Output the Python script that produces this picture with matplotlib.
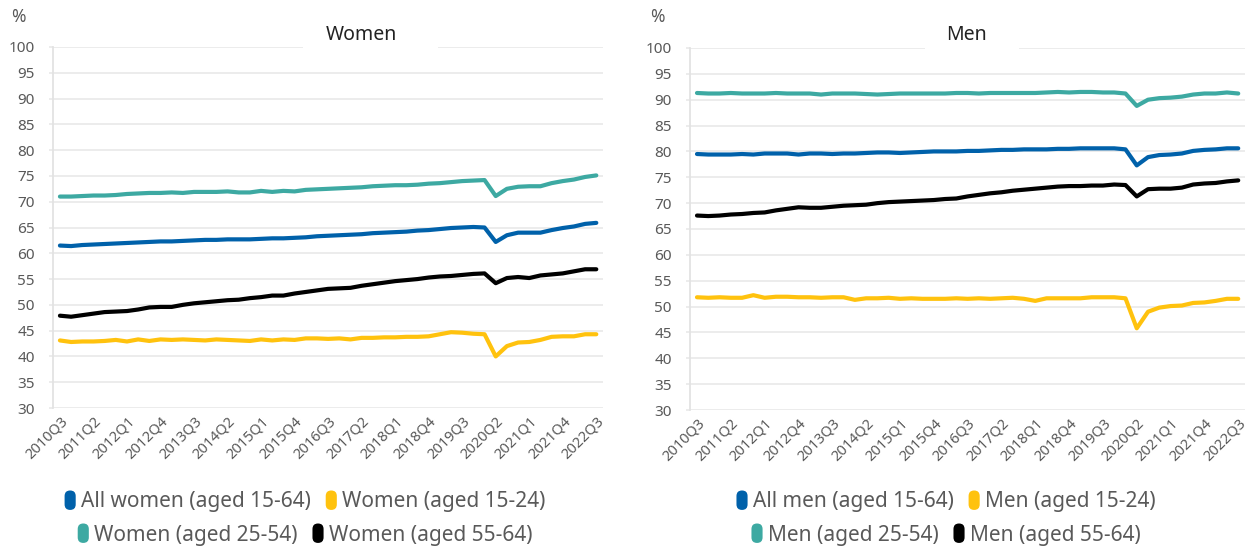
import matplotlib
matplotlib.use("Agg")
import matplotlib.pyplot as plt
from matplotlib.patches import FancyBboxPatch, Patch, Rectangle
from matplotlib.legend_handler import HandlerPatch

plt.rcParams['font.family'] = ['Noto Sans', 'DejaVu Sans']

quarters = [
    "2010Q3", "2010Q4",
    "2011Q1", "2011Q2", "2011Q3", "2011Q4",
    "2012Q1", "2012Q2", "2012Q3", "2012Q4",
    "2013Q1", "2013Q2", "2013Q3", "2013Q4",
    "2014Q1", "2014Q2", "2014Q3", "2014Q4",
    "2015Q1", "2015Q2", "2015Q3", "2015Q4",
    "2016Q1", "2016Q2", "2016Q3", "2016Q4",
    "2017Q1", "2017Q2", "2017Q3", "2017Q4",
    "2018Q1", "2018Q2", "2018Q3", "2018Q4",
    "2019Q1", "2019Q2", "2019Q3", "2019Q4",
    "2020Q1", "2020Q2", "2020Q3", "2020Q4",
    "2021Q1", "2021Q2", "2021Q3", "2021Q4",
    "2022Q1", "2022Q2", "2022Q3",
]
tick_labels = ["2010Q3", "2011Q2", "2012Q1", "2012Q4", "2013Q3", "2014Q2",
               "2015Q1", "2015Q4", "2016Q3", "2017Q2", "2018Q1", "2018Q4",
               "2019Q3", "2020Q2", "2021Q1", "2021Q4", "2022Q3"]

women_all = [61.5, 61.4, 61.6, 61.7, 61.8, 61.9, 62.0, 62.1, 62.2, 62.3,
             62.3, 62.4, 62.5, 62.6, 62.6, 62.7, 62.7, 62.7, 62.8, 62.9,
             62.9, 63.0, 63.1, 63.3, 63.4, 63.5, 63.6, 63.7, 63.9, 64.0,
             64.1, 64.2, 64.4, 64.5, 64.7, 64.9, 65.0, 65.1, 65.0, 62.2,
             63.5, 64.0, 64.0, 64.0, 64.5, 64.9, 65.2, 65.7, 65.9]
women_15_24 = [43.1, 42.8, 42.9, 42.9, 43.0, 43.2, 42.9, 43.3, 43.0, 43.3,
               43.2, 43.3, 43.2, 43.1, 43.3, 43.2, 43.1, 43.0, 43.3, 43.1,
               43.3, 43.2, 43.5, 43.5, 43.4, 43.5, 43.3, 43.6, 43.6, 43.7,
               43.7, 43.8, 43.8, 43.9, 44.3, 44.7, 44.6, 44.4, 44.3, 40.0,
               42.0, 42.7, 42.8, 43.2, 43.8, 43.9, 43.9, 44.3, 44.3]
women_25_54 = [71.0, 71.0, 71.1, 71.2, 71.2, 71.3, 71.5, 71.6, 71.7, 71.7,
               71.8, 71.7, 71.9, 71.9, 71.9, 72.0, 71.8, 71.8, 72.1, 71.9,
               72.1, 72.0, 72.3, 72.4, 72.5, 72.6, 72.7, 72.8, 73.0, 73.1,
               73.2, 73.2, 73.3, 73.5, 73.6, 73.8, 74.0, 74.1, 74.2, 71.1,
               72.5, 72.9, 73.0, 73.0, 73.6, 74.0, 74.3, 74.8, 75.1]
women_55_64 = [47.9, 47.7, 48.0, 48.3, 48.6, 48.7, 48.8, 49.1, 49.5, 49.6,
               49.6, 50.0, 50.3, 50.5, 50.7, 50.9, 51.0, 51.3, 51.5, 51.8,
               51.8, 52.2, 52.5, 52.8, 53.1, 53.2, 53.3, 53.7, 54.0, 54.3,
               54.6, 54.8, 55.0, 55.3, 55.5, 55.6, 55.8, 56.0, 56.1, 54.2,
               55.2, 55.4, 55.2, 55.7, 55.9, 56.1, 56.5, 56.9, 56.9]

men_all = [79.5, 79.4, 79.4, 79.4, 79.5, 79.4, 79.6, 79.6, 79.6, 79.4,
           79.6, 79.6, 79.5, 79.6, 79.6, 79.7, 79.8, 79.8, 79.7, 79.8,
           79.9, 80.0, 80.0, 80.0, 80.1, 80.1, 80.2, 80.3, 80.3, 80.4,
           80.4, 80.4, 80.5, 80.5, 80.6, 80.6, 80.6, 80.6, 80.4, 77.3,
           78.9, 79.3, 79.4, 79.6, 80.1, 80.3, 80.4, 80.6, 80.6]
men_15_24 = [51.8, 51.7, 51.8, 51.7, 51.7, 52.2, 51.7, 51.9, 51.9, 51.8,
             51.8, 51.7, 51.8, 51.8, 51.3, 51.6, 51.6, 51.7, 51.5, 51.6,
             51.5, 51.5, 51.5, 51.6, 51.5, 51.6, 51.5, 51.6, 51.7, 51.5,
             51.1, 51.6, 51.6, 51.6, 51.6, 51.8, 51.8, 51.8, 51.6, 45.8,
             49.0, 49.8, 50.1, 50.2, 50.7, 50.8, 51.1, 51.5, 51.5]
men_25_54 = [91.3, 91.2, 91.2, 91.3, 91.2, 91.2, 91.2, 91.3, 91.2, 91.2,
             91.2, 91.0, 91.2, 91.2, 91.2, 91.1, 91.0, 91.1, 91.2, 91.2,
             91.2, 91.2, 91.2, 91.3, 91.3, 91.2, 91.3, 91.3, 91.3, 91.3,
             91.3, 91.4, 91.5, 91.4, 91.5, 91.5, 91.4, 91.4, 91.2, 88.8,
             90.0, 90.3, 90.4, 90.6, 91.0, 91.2, 91.2, 91.4, 91.2]
men_55_64 = [67.6, 67.5, 67.6, 67.8, 67.9, 68.1, 68.2, 68.6, 68.9, 69.2,
             69.1, 69.1, 69.3, 69.5, 69.6, 69.7, 70.0, 70.2, 70.3, 70.4,
             70.5, 70.6, 70.8, 70.9, 71.3, 71.6, 71.9, 72.1, 72.4, 72.6,
             72.8, 73.0, 73.2, 73.3, 73.3, 73.4, 73.4, 73.6, 73.5, 71.3,
             72.7, 72.8, 72.8, 73.0, 73.6, 73.8, 73.9, 74.2, 74.4]

women_labels = ["All women (aged 15-64)", "Women (aged 15-24)",
                "Women (aged 25-54)", "Women (aged 55-64)"]
men_labels = ["All men (aged 15-64)", "Men (aged 15-24)",
              "Men (aged 25-54)", "Men (aged 55-64)"]
colors = ["#0061AA", "#FFC20E", "#3DA9A2", "#000000"]

GRID = "#EBEBEB"
TXT = "#595959"
W, H = 1253, 552


class PillHandler(HandlerPatch):
    def create_artists(self, legend, orig_handle, xdescent, ydescent,
                       width, height, fontsize, trans):
        w, h = 8.0, 14.0
        cx = -xdescent + width / 2
        cy = -ydescent + height / 2
        p = FancyBboxPatch((cx - w / 2, cy - h / 2), w, h,
                           boxstyle=f"round,pad=0,rounding_size={w/2}",
                           facecolor=orig_handle.get_facecolor(),
                           edgecolor="none", transform=trans)
        return [p]


fig = plt.figure(figsize=(W / 100, H / 100), dpi=100)


def panel(rect, series, labels, title, title_x, box, pct_x, leg_cx):
    ax = fig.add_axes(rect)
    x = list(range(len(quarters)))
    for vals, c in zip(series, colors):
        ax.plot(x, vals, color=c, lw=3.0, solid_joinstyle="round",
                solid_capstyle="round", zorder=3)
    ax.set_ylim(30, 100)
    ax.set_xlim(-0.62, len(quarters) - 1 + 0.6)
    ax.set_yticks(range(30, 101, 5))
    ax.set_xticks([quarters.index(t) for t in tick_labels])
    ax.set_xticklabels(tick_labels, rotation=45, ha="right",
                       rotation_mode="anchor", fontsize=10.5, color=TXT)
    ax.tick_params(axis="x", length=0, pad=4)
    ax.tick_params(axis="y", length=3, color=GRID, width=1.3, pad=10,
                   labelsize=11, labelcolor=TXT)
    ax.grid(axis="y", color=GRID, lw=1.3, zorder=0)
    ax.set_axisbelow(True)
    for s in ["top", "right", "bottom"]:
        ax.spines[s].set_visible(False)
    ax.spines["left"].set_color("#E3E3E3")
    ax.spines["left"].set_linewidth(1.3)
    # title box covering top gridline
    fig.patches.append(Rectangle((box[0] / W, 1 - 58 / H), (box[1] - box[0]) / W,
                                 40 / H, transform=fig.transFigure,
                                 facecolor="white", edgecolor="none", zorder=5))
    fig.text(title_x / W, 1 - 35 / H, title, ha="center", va="center",
             fontsize=14, color="#222222", zorder=6)
    fig.text(pct_x / W, 1 - 17 / H, "%", ha="center", va="center",
             fontsize=12.5, color=TXT)
    handles = [Patch(facecolor=c) for c in colors]
    kw = dict(ncol=2, loc="center", frameon=False, fontsize=15,
              labelcolor=TXT, handlelength=0.55, handletextpad=0.25,
              columnspacing=0.7, handler_map={Patch: PillHandler()})
    fig.legend(handles[:2], labels[:2],
               bbox_to_anchor=(leg_cx / W, 1 - 502 / H), **kw)
    fig.legend(handles[2:], labels[2:],
               bbox_to_anchor=(leg_cx / W, 1 - 535 / H), **kw)
    return ax


panel([53 / W, 1 - 408 / H, 550 / W, 361 / H],
      [women_all, women_15_24, women_25_54, women_55_64], women_labels,
      "Women", 361, (303, 438), 18, 305)
panel([690 / W, 1 - 410 / H, 555 / W, 362 / H],
      [men_all, men_15_24, men_25_54, men_55_64], men_labels,
      "Men", 967, (925, 1019), 657, 946)

fig.savefig("out.png", dpi=100, facecolor="white")
